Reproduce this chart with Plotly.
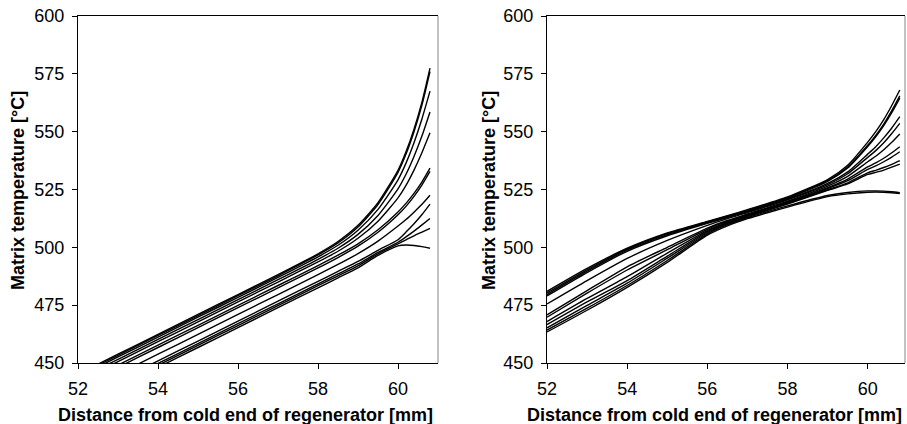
import plotly.graph_objects as go

# ---------------- data ----------------
x_left = [52, 53, 54, 55, 56, 57, 58, 58.5, 59, 59.5, 60, 60.2, 60.4, 60.6, 60.8]
left_curves = [
    [445.2, 453.8, 462.4, 471.0, 479.6, 488.2, 497.2, 502.5, 509.5, 519.3, 533.3, 541.3, 551.1, 562.9, 577.5],
    [444.7, 453.3, 461.9, 470.5, 479.1, 487.7, 496.7, 501.9, 508.8, 518.5, 532.4, 540.3, 550.0, 561.6, 576.0],
    [444.0, 452.6, 461.2, 469.8, 478.4, 487.0, 495.9, 500.9, 507.4, 516.4, 529.2, 536.4, 545.2, 555.6, 567.5],
    [443.0, 451.6, 460.2, 468.8, 477.4, 486.0, 494.8, 499.6, 505.6, 513.8, 525.3, 531.6, 539.3, 548.2, 558.5],
    [442.0, 450.6, 459.2, 467.8, 476.4, 485.0, 493.7, 498.3, 503.9, 511.3, 521.4, 526.8, 533.4, 541.0, 549.5],
    [440.5, 449.1, 457.7, 466.3, 474.9, 483.5, 492.1, 496.6, 501.5, 507.6, 515.3, 519.0, 523.3, 528.3, 534.2],
    [439.5, 448.1, 456.7, 465.3, 473.9, 482.5, 491.1, 495.6, 500.5, 506.5, 514.1, 517.7, 522.0, 527.0, 532.8],
    [436.6, 445.2, 453.8, 462.4, 471.0, 479.6, 488.2, 492.6, 497.3, 502.7, 509.2, 512.0, 515.2, 518.6, 522.5],
    [433.7, 442.3, 450.9, 459.5, 468.1, 476.7, 485.3, 489.6, 493.9, 498.7, 503.3, 506.6, 510.2, 514.2, 518.7],
    [432.6, 441.2, 449.8, 458.4, 467.0, 475.6, 484.2, 488.5, 492.8, 497.8, 502.2, 504.5, 507.0, 509.7, 512.5],
    [431.8, 440.4, 449.0, 457.6, 466.2, 474.8, 483.4, 487.7, 492.0, 497.2, 501.5, 503.2, 505.0, 506.6, 508.2],
    [430.9, 439.5, 448.1, 456.7, 465.3, 473.9, 482.5, 486.8, 491.1, 496.5, 500.6, 501.0, 500.8, 500.3, 499.6],
]

x_right = [52, 53, 54, 55, 56, 56.5, 57, 58, 59, 59.5, 60, 60.2, 60.4, 60.6, 60.8]
right_curves = [
    [481.0, 490.9, 499.6, 506.2, 511.2, 513.7, 516.3, 521.8, 529.3, 535.5, 545.5, 550.0, 555.2, 561.3, 568.0],
    [480.3, 490.3, 499.2, 505.9, 511.0, 513.5, 516.0, 521.5, 528.8, 534.7, 544.1, 548.4, 553.3, 559.1, 565.5],
    [479.6, 489.7, 498.8, 505.5, 510.7, 513.2, 515.7, 521.2, 528.5, 534.3, 543.6, 547.8, 552.6, 558.2, 564.5],
    [479.0, 489.1, 498.3, 505.0, 510.4, 512.9, 515.4, 520.8, 527.6, 532.6, 540.3, 543.5, 547.3, 551.6, 556.5],
    [475.5, 485.6, 495.2, 503.0, 509.5, 512.4, 515.0, 520.5, 527.1, 531.8, 538.9, 541.8, 545.2, 549.2, 553.6],
    [470.8, 481.3, 491.6, 500.0, 508.3, 511.6, 514.4, 520.0, 526.5, 530.7, 537.0, 539.4, 542.2, 545.4, 549.0],
    [469.8, 480.2, 490.2, 499.0, 507.8, 511.3, 514.1, 519.6, 525.8, 529.5, 534.8, 536.5, 538.5, 540.9, 543.5],
    [467.9, 477.9, 487.3, 497.5, 507.2, 510.9, 513.8, 519.3, 525.4, 528.8, 533.7, 535.2, 537.0, 539.0, 541.3],
    [466.6, 476.4, 485.6, 496.2, 506.8, 510.6, 513.5, 519.0, 524.9, 527.9, 532.2, 533.3, 534.5, 535.9, 537.5],
    [465.2, 474.9, 484.5, 495.3, 506.3, 510.3, 513.2, 518.7, 524.6, 527.4, 531.5, 532.4, 533.4, 534.7, 536.0],
    [464.2, 473.7, 483.5, 494.3, 505.8, 509.8, 512.8, 517.9, 522.4, 523.7, 524.4, 524.4, 524.3, 524.0, 523.6],
    [463.4, 472.8, 482.7, 493.5, 505.3, 509.3, 512.4, 517.4, 521.9, 523.1, 523.8, 523.9, 523.8, 523.6, 523.3],
]

x_ticks = [52, 54, 56, 58, 60]
y_ticks = [450, 475, 500, 525, 550, 575, 600]
x_title = "Distance from cold end of regenerator [mm]"
y_title = "Matrix temperature [°C]"

# ---------------- figure ----------------
W, H = 907, 424
FONT = "Liberation Sans, Arial, sans-serif"
fig = go.Figure()

for ys in left_curves:
    fig.add_trace(go.Scatter(x=x_left, y=ys, mode="lines", xaxis="x", yaxis="y",
                             line=dict(color="black", width=1.4, shape="spline", smoothing=0.6),
                             showlegend=False, hoverinfo="skip"))
for ys in right_curves:
    fig.add_trace(go.Scatter(x=x_right, y=ys, mode="lines", xaxis="x2", yaxis="y2",
                             line=dict(color="black", width=1.4, shape="spline", smoothing=0.6),
                             showlegend=False, hoverinfo="skip"))

ydom = [1 - 363 / H, 1 - 16 / H]
xdom_l = [78 / W, 438 / W]
xdom_r = [547 / W, 905 / W]

def xax(dom, rng, anchor):
    return dict(domain=dom, range=rng, anchor=anchor, tickvals=x_ticks, automargin=False,
                showline=True, linecolor="black", linewidth=1.2, mirror=True,
                ticks="outside", ticklen=5, tickcolor="black", tickwidth=1.2,
                showgrid=False, zeroline=False, ticklabelstandoff=4,
                tickfont=dict(family=FONT, size=18, color="black"))

def yax(rng, anchor):
    return dict(domain=ydom, range=rng, anchor=anchor, tickvals=y_ticks, automargin=False,
                showline=True, linecolor="black", linewidth=1.2, mirror=False,
                ticks="outside", ticklen=5, tickcolor="black", tickwidth=1.2,
                showgrid=False, zeroline=False, ticklabelstandoff=4,
                tickfont=dict(family=FONT, size=18, color="black"))

fig.update_layout(
    width=W, height=H, margin=dict(l=0, r=0, t=0, b=0, autoexpand=False),
    paper_bgcolor="white", plot_bgcolor="white",
    xaxis=xax(xdom_l, [52, 61], "y"),
    yaxis=yax([450, 600], "x"),
    xaxis2=xax(xdom_r, [52, 60.93], "y2"),
    yaxis2=yax([450, 600], "x2"),
)

# light grey right frame edges
for xr, yr in (("x domain", "y domain"), ("x2 domain", "y2 domain")):
    fig.add_shape(type="line", xref=xr, yref=yr, x0=1, x1=1, y0=0, y1=1,
                  line=dict(color="#999999", width=1.2))

# axis titles as annotations
for cx in (245, 714):
    fig.add_annotation(text="<b>" + x_title + "</b>", xref="paper", yref="paper",
                       x=cx / W, y=1 - 415 / H, showarrow=False,
                       xanchor="center", yanchor="middle",
                       font=dict(family=FONT, size=18, color="black"))
for cx in (18, 489):
    fig.add_annotation(text="<b>" + y_title + "</b>", xref="paper", yref="paper",
                       x=cx / W, y=1 - 191 / H, showarrow=False, textangle=-90,
                       xanchor="center", yanchor="middle",
                       font=dict(family=FONT, size=18, color="black"))

fig.write_html("out.html", config={"displayModeBar": False},
               post_script="document.body.style.margin='0px';document.body.style.overflow='hidden';")
